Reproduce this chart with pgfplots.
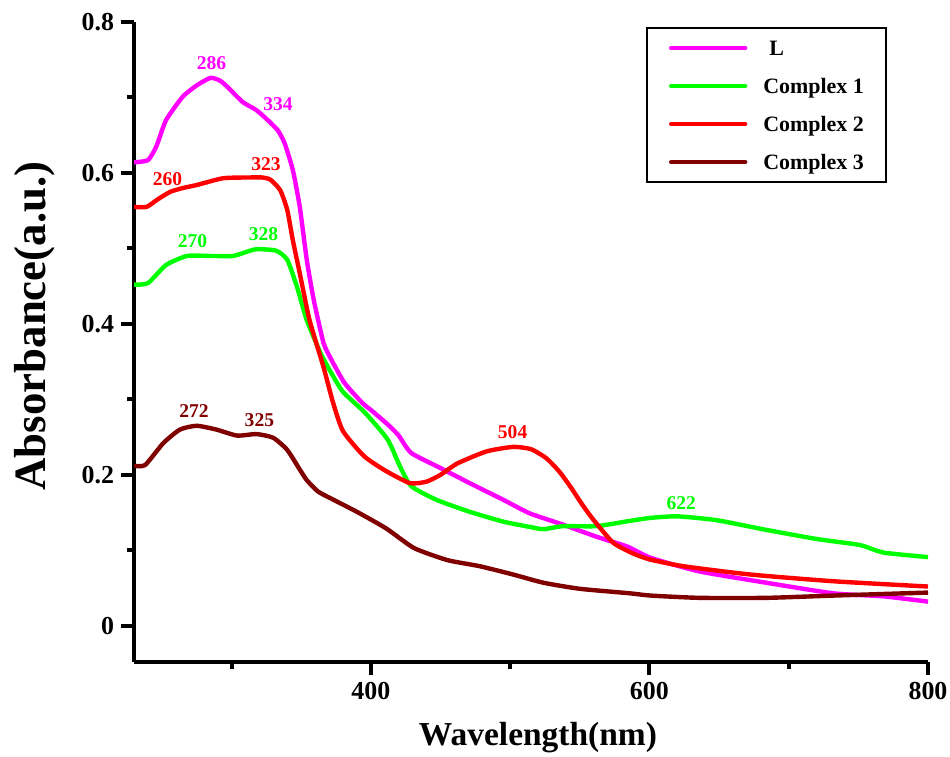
\documentclass[border=0pt]{standalone}
\usepackage{pgfplots}
\pgfplotsset{compat=1.18}
\usepackage{fontspec}
\setmainfont{Liberation Serif}
\definecolor{cL}{RGB}{255,0,255}
\definecolor{cA}{RGB}{0,255,0}
\definecolor{cB}{RGB}{255,0,0}
\definecolor{cC}{RGB}{128,0,0}
\begin{document}
\begin{tikzpicture}
\begin{axis}[
  scale only axis,
  width=397bp, height=320bp,
  xmin=230, xmax=800, ymin=-0.048, ymax=0.8,
  enlargelimits=false,
  axis lines=left,
  axis line style={-, line width=2bp, black},
  tick align=outside,
  xtick={400,600,800}, minor xtick={300,500,700},
  ytick={0,0.2,0.4,0.6,0.8}, minor ytick={0.1,0.3,0.5,0.7},
  major tick length=6.5bp, minor tick length=3.5bp,
  every tick/.style={black, line width=2bp},
  /pgf/number format/assume math mode=true,
  tick label style={font=\bfseries\fontsize{13}{14}\selectfont},
  xlabel={Wavelength(nm)},
  ylabel={Absorbance(a.u.)},
  xlabel style={font=\bfseries\fontsize{16.8}{18}\selectfont, at={(rel axis cs:0.5088,-0.1297)}, anchor=base},
  ylabel style={font=\bfseries\fontsize{22.5}{24}\selectfont, at={(rel axis cs:-0.125,0.525)}, anchor=center},
  legend cell align=left,
  legend image code/.code={\draw[#1, line width=2.2bp, line cap=round] (0bp,0bp) -- (37bp,0bp);},
  legend style={at={(rel axis cs:0.6448,0.992)}, anchor=north west, draw=black, line width=1bp,
    font=\bfseries\fontsize{11}{12}\selectfont, inner xsep=11bp, inner ysep=5.5bp,
    row sep=10bp, column sep=8bp, nodes={inner sep=0pt, text height=8bp, text depth=1bp}},
  every axis plot/.append style={line width=2.2bp, line join=round, smooth, tension=0.35},
]
\addplot[cL] coordinates {
(230,0.614)(240,0.617)(246,0.635)(253,0.670)(265,0.701)(275,0.716)(285,0.726)(292,0.722)
(297,0.714)(308,0.694)(318,0.683)(326,0.670)(333,0.657)(338,0.640)(344,0.604)(349,0.555)
(354,0.485)(359,0.432)(366,0.375)(371,0.355)(381,0.322)(394,0.295)(400,0.286)(412,0.267)
(420,0.252)(429,0.229)(450,0.209)(471,0.189)(495,0.167)(514,0.149)(538,0.134)(562,0.118)
(584,0.105)(601,0.090)(636,0.072)(684,0.057)(732,0.043)(768,0.039)(800,0.032)};
\addlegendentry{\hspace*{3bp}L}
\addplot[cA] coordinates {
(230,0.452)(240,0.454)(253,0.478)(268,0.490)(285,0.490)(301,0.490)(310,0.495)(318,0.499)
(332,0.497)(340,0.485)(347,0.449)(354,0.405)(364,0.361)(371,0.337)(380,0.310)(396,0.282)
(412,0.247)(421,0.211)(429,0.185)(447,0.167)(471,0.151)(495,0.138)(514,0.131)(524,0.128)
(538,0.132)(562,0.132)(586,0.139)(601,0.143)(620,0.145)(648,0.140)(684,0.127)(720,0.115)
(751,0.107)(768,0.097)(800,0.091)};
\addlegendentry{Complex 1}
\addplot[cB] coordinates {
(230,0.555)(239,0.555)(247,0.565)(256,0.575)(265,0.580)(275,0.584)(294,0.593)(313,0.594)
(322,0.594)(328,0.591)(335,0.577)(340,0.551)(344,0.511)(349,0.467)(356,0.405)(366,0.343)
(373,0.295)(380,0.258)(395,0.225)(410,0.206)(428,0.189)(440,0.191)(450,0.200)(462,0.215)
(483,0.231)(502,0.237)(515,0.234)(526,0.222)(535,0.205)(543,0.185)(552,0.160)(560,0.140)
(574,0.110)(588,0.096)(600,0.088)(624,0.079)(672,0.068)(732,0.059)(800,0.052)};
\addlegendentry{Complex 2}
\addplot[cC] coordinates {
(230,0.212)(238,0.213)(251,0.242)(263,0.260)(275,0.265)(289,0.260)(304,0.252)(318,0.254)
(330,0.249)(340,0.233)(349,0.207)(354,0.193)(362,0.178)(371,0.169)(390,0.151)(411,0.129)
(431,0.103)(455,0.087)(478,0.079)(502,0.068)(524,0.057)(550,0.049)(586,0.043)(601,0.040)
(636,0.037)(684,0.037)(732,0.040)(800,0.044)};
\addlegendentry{Complex 3}
\begin{scope}[every node/.style={font=\bfseries\fontsize{9.8}{10}\selectfont, inner sep=0pt}]
\node[text=cL] at (axis cs:285.7,0.745) {286};
\node[text=cL] at (axis cs:333.4,0.691) {334};
\node[text=cB] at (axis cs:324.8,0.612) {323};
\node[text=cB] at (axis cs:254,0.592) {260};
\node[text=cA] at (axis cs:272,0.510) {270};
\node[text=cA] at (axis cs:323,0.5186) {328};
\node[text=cC] at (axis cs:273,0.285) {272};
\node[text=cC] at (axis cs:320,0.272) {325};
\node[text=cB] at (axis cs:501.8,0.256) {504};
\node[text=cA] at (axis cs:622.8,0.162) {622};
\end{scope}
\coordinate (bbl) at (rel axis cs:-0.1688,-0.1484);
\coordinate (btr) at (rel axis cs:1.0277,1.0344);
\end{axis}
\pgfresetboundingbox
\useasboundingbox (bbl) rectangle (btr);
\end{tikzpicture}
\end{document}
